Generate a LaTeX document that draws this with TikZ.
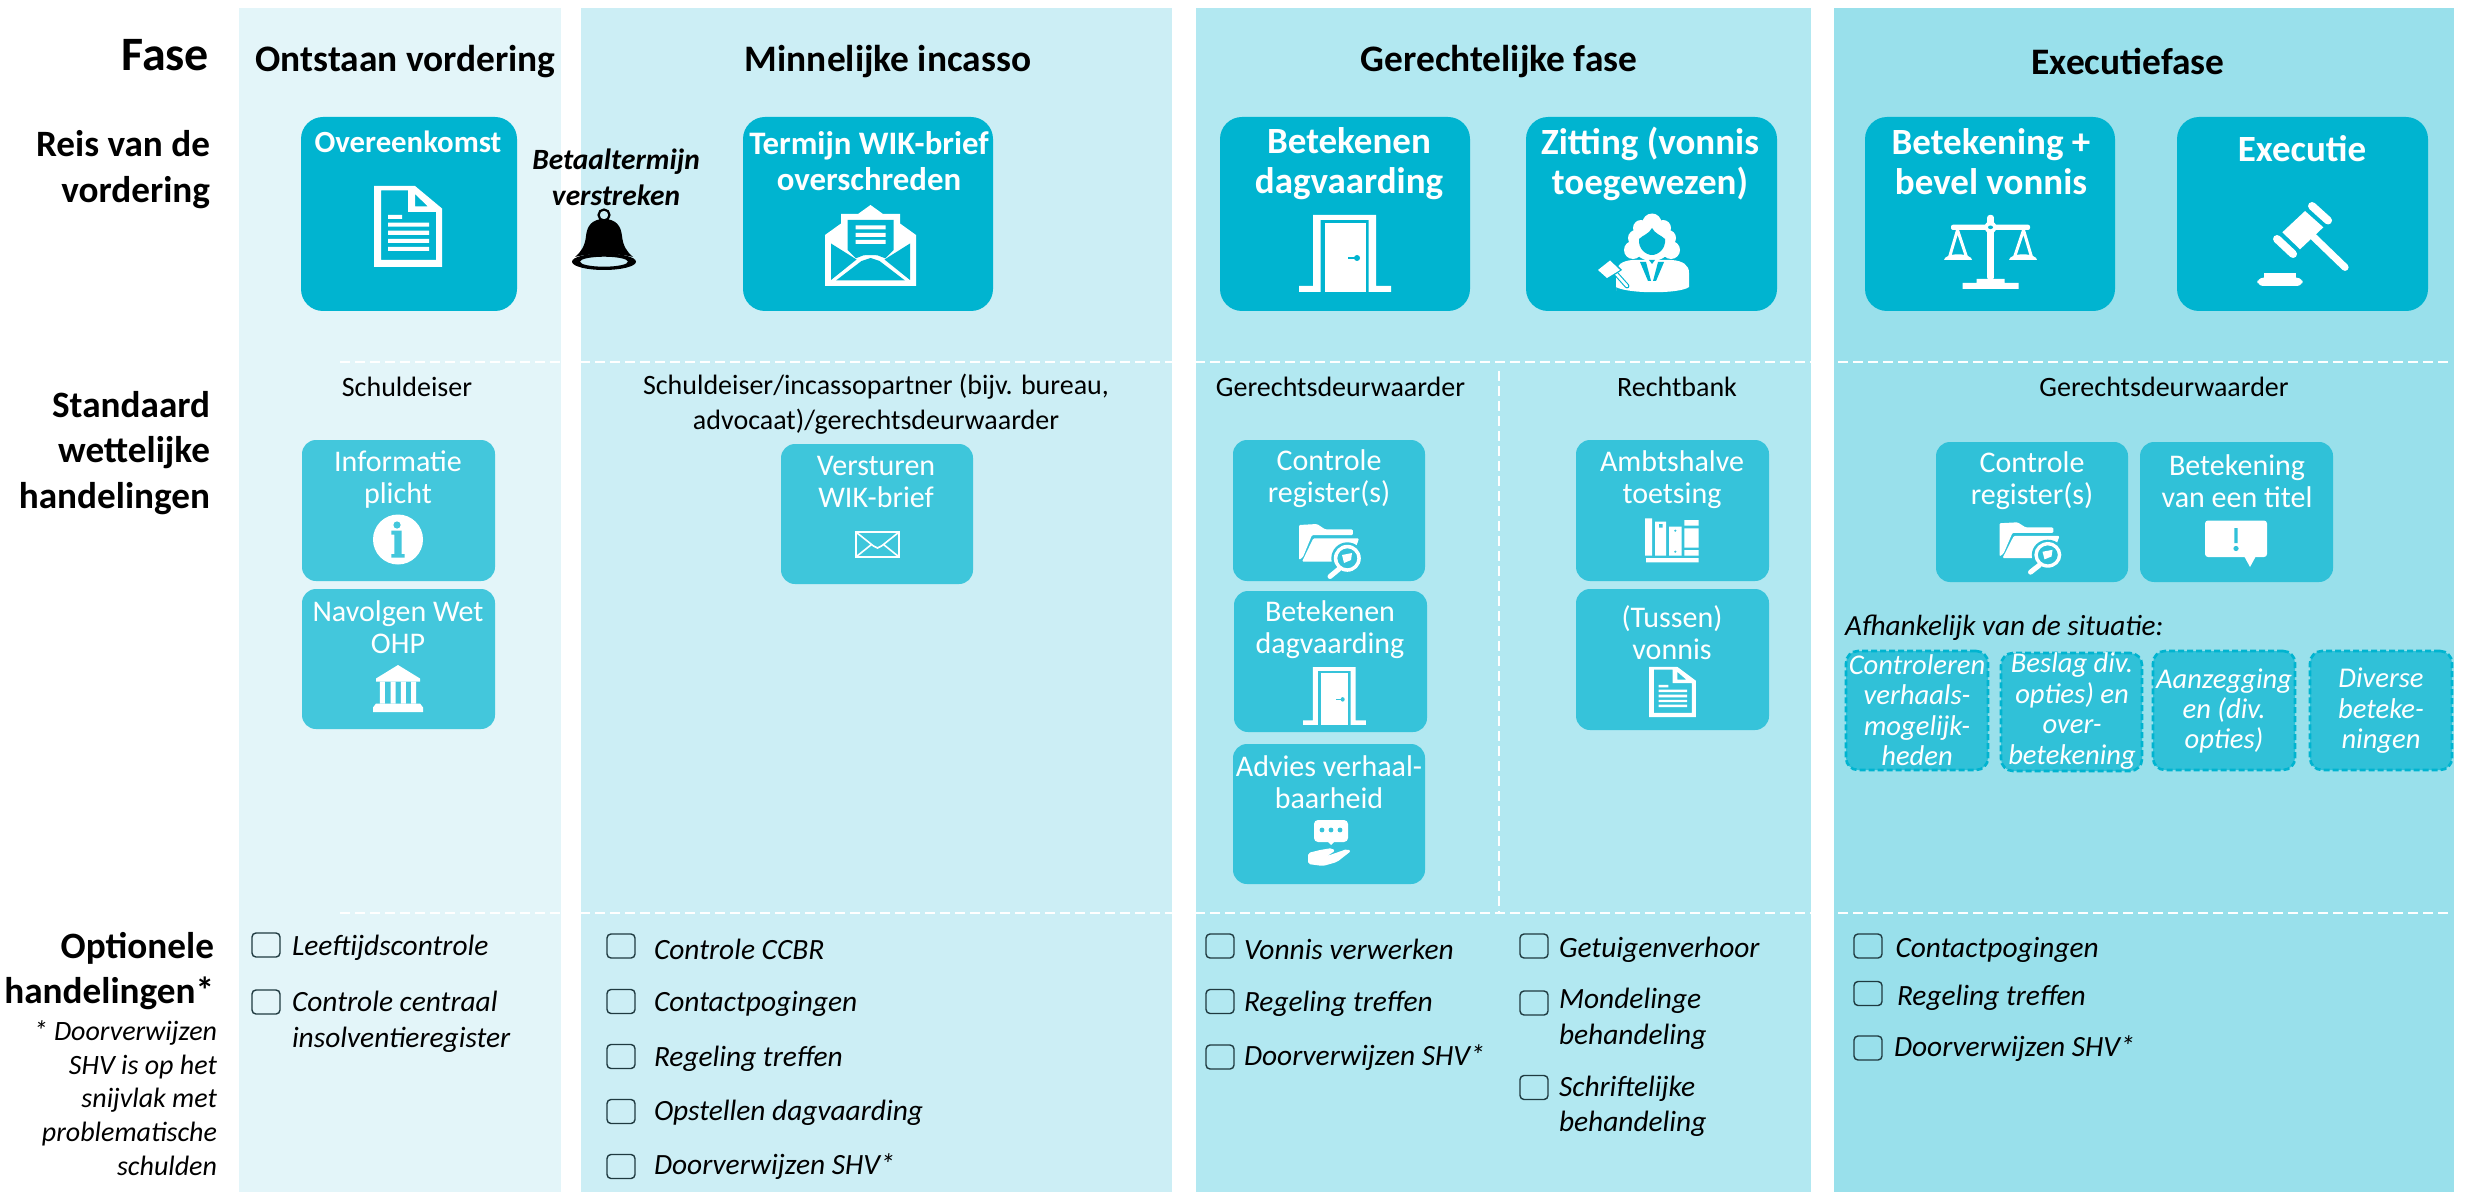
\documentclass[tikz,border=0pt]{standalone}
\usepackage{fontspec}
\setmainfont{Carlito}
\definecolor{colA}{HTML}{E3F5F9}
\definecolor{colB}{HTML}{CCEEF5}
\definecolor{colC}{HTML}{B2E8F1}
\definecolor{colD}{HTML}{99E0EB}
\definecolor{boxmain}{HTML}{00B4D0}
\definecolor{smA}{HTML}{43C7DC}
\definecolor{smB}{HTML}{3EC6DB}
\definecolor{smC}{HTML}{36C3DA}
\definecolor{smD}{HTML}{30C1D8}
\definecolor{chk}{HTML}{1F3A40}
\newcommand{\fs}[2]{\fontsize{#1}{#2}\selectfont}
\newcommand{\bx}[6]{\node[#2, minimum width={(#5-(#3))*0.5pt}, minimum height={(#6-(#4))*0.5pt}] (#1) at ({(#3+#5)/2},{(#4+#6)/2}) {};}
\newcommand{\tx}[5]{\node[#1] (#2) at (#3,#4) {#5};}
\newcommand{\cb}[3]{\node[chkbox] (#1) at (#2,#3) {};}
\tikzset{
  x=0.5pt,y=-0.5pt,
  coldbg/.style={rectangle,inner sep=0,outer sep=0,fill=#1,draw=none},
  bigbox/.style={rectangle,rounded corners=11pt,inner sep=0,outer sep=0,fill=boxmain,draw=none},
  smallbox/.style={rectangle,rounded corners=7pt,inner sep=0,outer sep=0,fill=#1,draw=none},
  dashbox/.style={rectangle,rounded corners=6pt,inner sep=0,outer sep=0,fill=smD,draw=boxmain,line width=1.3pt,dash pattern=on 3pt off 1.5pt},
  chkbox/.style={rectangle,rounded corners=2pt,inner sep=0,outer sep=0,minimum width=14pt,minimum height=12pt,draw=chk,line width=0.7pt,fill=none},
  base/.style={inner sep=0,outer sep=0,align=center,text=black},
  phasel/.style={base,anchor=east,align=right,font=\bfseries\fs{24}{27}},
  rowl/.style={base,anchor=east,align=right,font=\bfseries\fs{18.6}{22.9}},
  notel/.style={base,anchor=east,align=right,font=\itshape\fs{14}{16.85}},
  head/.style={base,font=\bfseries\fs{18.7}{22}},
  bigO/.style={base,text=white,font=\bfseries\fs{15.4}{17.8}},
  bigA/.style={base,text=white,font=\bfseries\fs{16.4}{17.8}},
  bigB/.style={base,text=white,font=\bfseries\fs{18.5}{20}},
  betaal/.style={base,font=\bfseries\itshape\fs{14.7}{18}},
  actor/.style={base,font=\fs{14}{17.4}},
  smallt/.style={base,text=white,font=\fs{15}{16}},
  dasht/.style={base,text=white,font=\itshape\fs{14.3}{15.2}},
  afh/.style={base,anchor=west,font=\itshape\fs{14.6}{17}},
  optt/.style={base,anchor=west,align=left,font=\itshape\fs{14.7}{17.7}},
  wdash/.style={draw=white,line width=1.1pt,dash pattern=on 5pt off 2.5pt},
  vdash/.style={draw=white,line width=0.8pt,dash pattern=on 5pt off 2.5pt},
  pics/docicon/.style={code={
    \fill[white,even odd rule] (-34,-40.5)--(7,-40.5)--(34,-18)--(34,40.5)--(-34,40.5)--cycle
      (-27,-36)--(0,-36)--(0,-14.5)--(28,-14.5)--(28,33.5)--(-27,33.5)--cycle
      (7,-32.5)--(20,-20)--(7,-20)--cycle;
    \fill[white] (-20,-11.5) rectangle (-6,-7.5) (-20,-3.8) rectangle (21,0.2) (-20,4.2) rectangle (21,8.5) (-20,12.5) rectangle (21,16.5) (-20,20.5) rectangle (21,24.5);
  }},
  pics/mailopen/.style={code={
    \fill[white] (-45.5,40.5)--(-45.5,-10.5)--(-29.5,-22)--(-29.5,-31.5)--(-12.5,-31.5)--(0,-40.5)--(12.5,-31.5)--(29.5,-31.5)--(29.5,-22)--(45.5,-10.5)--(45.5,40.5)--cycle;
    \fill[#1] (-23,-25.5)--(23,-25.5)--(23,4.5)--(14.7,12.8)--(7,9.8)--(0,9.5)--(-7,9.8)--(-14.7,12.8)--(-23,4.5)--cycle;
    \fill[#1] (-39.5,-2)--(-14,14)--(-39.5,34.5)--cycle (39.5,-2)--(14,14)--(39.5,34.5)--cycle;
    \fill[#1] (-34.5,35)--(-9,15.5)--(0,12.5)--(9,15.5)--(34.5,35)--cycle;
    \fill[white] (-15,-20) rectangle (15,-16) (-15,-12.5) rectangle (15,-8.5) (-15,-5.5) rectangle (15,-1.5);
  }},
  pics/mailsmall/.style={code={
    \draw[white,line width=1.1pt] (-21.5,-12.5) rectangle (21.5,12.5);
    \draw[white,line width=0.8pt] (-21,-12)--(-4,1.5)--(0,3.5)--(4,1.5)--(21,-12) (-21,12)--(-6,0) (21,12)--(6,0);
  }},
  pics/dooricon/.style={code={
    \fill[white] (-46,38.5)--(-46,32.5)--(-32,32.5)--(-32,-38.5)--(31,-38.5)--(31,32.5)--(46,32.5)--(46,38.5)--(23.5,38.5)--(23.5,-33.5)--(-24.5,-33.5)--(-24.5,38.5)--cycle;
    \fill[white] (-20,-30.5) rectangle (20.5,38.5);
    \fill[#1] (2.5,3.6) rectangle (10,5.4);
    \fill[#1] (12,4.5) circle[radius=3];
  }},
  pics/judge/.style={code={
    \fill[white] (0,-30) circle[radius=9.5] (-11,-25) circle[radius=8] (11,-25) circle[radius=8]
      (-16,-15) circle[radius=8] (16,-15) circle[radius=8] (-19,-3) circle[radius=9] (19,-3) circle[radius=9]
      (0,-10) ellipse[x radius=20,y radius=18];
    \fill[#1] (0,-25)..controls (3,-19) and (9,-18)..(13,-14)..controls (14,-4) and (6,2)..(0,2)..controls (-6,2) and (-14,-4)..(-13,-14)..controls (-9,-18) and (-3,-19)..(0,-25)--cycle;
    \fill[white] (-6,2) rectangle (6,5);
    \fill[white] (-36,38)--(-36,20)..controls (-36,12) and (-30,8)..(-20,7)--(20,7)..controls (31,8) and (37,12)..(37,20)--(37,34)..controls (28,41) and (-24,41)..(-36,34)--cycle;
    \fill[#1] (-12,9)--(-6,9)--(-1,28)--(-4,28)--cycle (12,9)--(6,9)--(1,28)--(4,28)--cycle (-3,7)--(3,7)--(0,11)--cycle;
    \draw[#1,line width=2.4pt,line cap=round] (-42,14)--(-25,33);
    \draw[white,line width=1.3pt,line cap=round] (-42,14)--(-25,33);
    \fill[#1] (-42,5)--(-30,17)--(-45,27)--(-56,17)--cycle;
    \fill[white] (-42,7.5)--(-32,17)--(-45,25)--(-54,17)--cycle;
  }},
  pics/scalesicon/.style={code={
    \fill[white,rounded corners=1pt] (-39.5,-27.3) rectangle (39.5,-22);
    \fill[white,rounded corners=1.2pt] (-3.3,-37) rectangle (3.3,28);
    \fill[white] (0,-24.7) circle[radius=6];
    \fill[#1] (0,-24.7) ellipse[x radius=2.5,y radius=1.8];
    \fill[white] (-46.5,8) arc[start angle=180,end angle=360,x radius=14,y radius=5.7]--cycle;
    \fill[white] (18.5,8) arc[start angle=180,end angle=360,x radius=14,y radius=5.7]--cycle;
    \draw[white,line width=1.5pt] (-41,5)--(-33,-22)--(-24,5) (24,5)--(33,-22)--(41,5);
    \fill[white] (-14,27) rectangle (14,31) (-28,31) rectangle (28,37);
  }},
  pics/gavelicon/.style={code={
    \fill[white] (2,-32)--(20.3,-15.7)--(-3,6.3)--(-20.7,-10.7)--cycle;
    \draw[white,line width=3.6pt,line cap=round] (10.3,-6.3)--(42,24.3);
    \draw[white,line width=4pt,line cap=round] (9,-37)--(25,-22.5);
    \draw[white,line width=4pt,line cap=round] (-26,-4)--(-10,11);
    \fill[white,rounded corners=3pt] (-45.7,34.7) rectangle (-0.3,43);
    \fill[white] (-39,30) rectangle (-7,35);
  }},
  pics/bellicon/.style={code={
    \draw[black,line width=1.1pt] (0,-25) circle[radius=5.5];
    \fill[black] (0,-21)..controls (12,-21) and (17,-14)..(18,-4)..controls (19,6) and (23,12)..(29,17)..controls (15,13) and (-15,13)..(-29,17)..controls (-23,12) and (-19,6)..(-18,-4)..controls (-17,-14) and (-12,-21)..(0,-21)--cycle;
    \fill[black,even odd rule] (0,21.7) ellipse[x radius=32,y radius=8.3] (0,21.7) ellipse[x radius=24,y radius=5];
    \fill[black] (-6,15) arc[start angle=180,end angle=360,radius=6]--cycle;
  }},
  pics/infoicon/.style={code={
    \fill[white] (0,0) circle[radius=25];
    \fill[#1] (-1,-14.5) circle[radius=3.6];
    \fill[#1] (-6.7,-8.8)--(3.7,-8.8)--(3.7,14.5)--(6.7,14.5)--(6.7,18.2)--(-6.7,18.2)--(-6.7,14.5)--(-3.6,14.5)--(-3.6,-4.8)--(-6.7,-4.8)--cycle;
  }},
  pics/bank/.style={code={
    \fill[white] (0,-23.5)--(22,-10)--(22,-7)--(-22,-7)--(-22,-10)--cycle;
    \fill[white] (-18.2,-7) rectangle (-13.2,15) (-7.4,-7) rectangle (-2.5,15) (2.9,-7) rectangle (7.8,15) (13.2,-7) rectangle (18.2,15);
    \fill[white] (-22,15)--(22,15)--(25,19)--(25,23.5)--(-25,23.5)--(-25,19)--cycle;
  }},
  pics/foldericon/.style={code={
    \fill[white,rounded corners=0.6pt] (-31,-25)--(-13,-26)--(-5,-20.7)--(22.7,-20.7)--(23,-15)--(-18,-15)--(-27,7)--(-31,10)--cycle;
    \fill[white,rounded corners=0.6pt] (-16.7,-11.7)--(29,-11.7)--(25,0)--(3,11.7)--(-28,11.7)--cycle;
    \fill[#1] (17.3,8.3) circle[radius=16];
    \fill[white,even odd rule] (17.3,8.3) circle[radius=13.5] (17.3,8.3) circle[radius=10];
    \fill[white] (12,5)--(22,3)--(21,10)--(14,13)--cycle;
    \draw[white,line width=2.5pt,line cap=round] (9,19)--(0,26.5);
  }},
  pics/booksicon/.style={code={
    \fill[white] (-27,-21.7) rectangle (-20,15.7) (-17,-18.3) rectangle (-6,15.7) (-3,-13.3) rectangle (9.7,15.7)
      (12.3,-20) rectangle (26.7,-14.3) (12.3,-11.7) rectangle (26.7,7.7) (12.3,10) rectangle (26.7,15.7)
      (-26,18) rectangle (26.7,22.3);
    \fill[#1] (-13,-15.8) rectangle (-9.5,-12.3) (3.3,-9.3) circle[radius=1.2] (3.3,11.7) circle[radius=1.2];
  }},
  pics/alert/.style={code={
    \fill[white,rounded corners=1.5pt] (-31,-23.5) rectangle (31,13);
    \fill[white] (8,12)--(20,12)--(14,23)--cycle;
    \fill[#1] (-1.6,-16) rectangle (1.6,-1) (0,4.5) circle[radius=2.6];
  }},
  pics/advice/.style={code={
    \fill[white,rounded corners=2pt] (-17,-23) rectangle (17,-1);
    \fill[white] (-4,-2)--(4,-2)--(0,2)--cycle;
    \fill[#1] (-9,-13) circle[radius=2.4] (0,-13) circle[radius=2.4] (9,-13) circle[radius=2.4];
    \fill[white,rounded corners=1pt] (-23,10)--(-11,7)--(1,5)--(4,8)--(-4,13)--(16,6)--(20,8)--(6,19)--(-8,23)--(-23,21)--cycle;
  }},
}
\begin{document}
\begin{tikzpicture}
\useasboundingbox (0,0) rectangle (2471,1192);
% column backgrounds
\bx{colOne}{coldbg=colA}{239}{8}{561}{1192}
\bx{colTwo}{coldbg=colB}{581}{8}{1172}{1192}
\bx{colThree}{coldbg=colC}{1196}{8}{1811}{1192}
\bx{colFour}{coldbg=colD}{1834}{8}{2454}{1192}
% dashed separators
\coordinate (hAa) at (340,362);\coordinate (hAb) at (1811,362);
\coordinate (hBa) at (1838,362);\coordinate (hBb) at (2450,362);
\coordinate (hCa) at (340,913);\coordinate (hCb) at (1811,913);
\coordinate (hDa) at (1838,913);\coordinate (hDb) at (2450,913);
\coordinate (vTop) at (1499,371);\coordinate (vBot) at (1499,913);
\draw[wdash] (hAa)--(hAb);
\draw[wdash] (hBa)--(hBb);
\draw[wdash] (hCa)--(hCb);
\draw[wdash] (hDa)--(hDb);
\draw[vdash] (vTop)--(vBot);
% row labels
\tx{phasel}{lblFase}{209}{55}{Fase}
\tx{rowl}{lblReis}{210}{169.5}{Reis van de\\vordering}
\tx{rowl}{lblStd}{210}{453}{Standaard\\wettelijke\\handelingen}
\tx{rowl}{lblOpt}{214}{971}{Optionele\\handelingen*}
\tx{notel}{lblNote}{217}{1098}{* Doorverwijzen\\SHV is op het\\snijvlak met\\problematische\\schulden}
% headers
\tx{head}{hOne}{405.5}{62}{Ontstaan vordering}
\tx{head}{hTwo}{888}{62}{Minnelijke incasso}
\tx{head}{hThree}{1499}{62}{Gerechtelijke fase}
\tx{head}{hFour}{2128}{61}{Executiefase}
% big boxes
\bx{bOver}{bigbox}{301}{117}{517}{311}
\bx{bTerm}{bigbox}{743}{117}{993}{311}
\bx{bBet}{bigbox}{1220}{117}{1470}{311}
\bx{bZit}{bigbox}{1526}{117}{1777}{311}
\bx{bBev}{bigbox}{1865}{117}{2115}{311}
\bx{bExe}{bigbox}{2177}{117}{2428}{311}
\tx{bigO}{tOver}{408}{142}{Overeenkomst}
\tx{bigA}{tTerm}{869}{161}{Termijn WIK-brief\\overschreden}
\tx{bigB}{tBet}{1349}{163.5}{Betekenen\\dagvaarding}
\tx{bigB}{tZit}{1650}{163.5}{Zitting (vonnis\\toegewezen)}
\tx{bigB}{tBev}{1991}{162}{Betekening +\\bevel vonnis}
\tx{bigB}{tExe}{2302}{149}{Executie}
\tx{betaal}{tBetaal}{616}{177}{Betaaltermijn\\verstreken}
\pic at (408,226.5) {docicon};
\pic at (870.5,245.5) {mailopen=boxmain};
\pic at (1345,253.5) {dooricon=boxmain};
\pic at (1652,253) {judge=boxmain};
\pic at (1990.5,252) {scalesicon=boxmain};
\pic at (2303,243) {gavelicon};
\pic at (604,240) {bellicon};
% actors
\tx{actor}{aOne}{407}{386.5}{Schuldeiser}
\tx{actor}{aTwo}{876}{404.5}{Schuldeiser/incassopartner (bijv. bureau,\\advocaat)/gerechtsdeurwaarder}
\tx{actor}{aThree}{1340.5}{386.5}{Gerechtsdeurwaarder}
\tx{actor}{aRecht}{1677}{386.5}{Rechtbank}
\tx{actor}{aFour}{2164}{386.5}{Gerechtsdeurwaarder}
% standard boxes
\bx{sInfo}{smallbox=smA}{302}{440}{495}{581}
\bx{sOhp}{smallbox=smA}{302}{589}{495}{729}
\bx{sWik}{smallbox=smB}{781}{444}{973}{584}
\bx{sCon}{smallbox=smC}{1233}{440}{1425}{581}
\bx{sDag}{smallbox=smC}{1234}{591}{1427}{732}
\bx{sAdv}{smallbox=smC}{1233}{744}{1425}{884}
\bx{sAmb}{smallbox=smC}{1576}{440}{1769}{581}
\bx{sTus}{smallbox=smC}{1576}{589}{1769}{730}
\bx{sConB}{smallbox=smD}{1936}{442}{2128}{582}
\bx{sTit}{smallbox=smD}{2140}{442}{2333}{582}
\tx{smallt}{tInfo}{398}{480}{Informatie\\plicht}
\tx{smallt}{tOhp}{398}{627}{Navolgen Wet\\OHP}
\tx{smallt}{tWik}{876}{482}{Versturen\\WIK-brief}
\tx{smallt}{tCon}{1329}{479}{Controle\\register(s)}
\tx{smallt}{tDag}{1330}{630}{Betekenen\\dagvaarding}
\tx{smallt}{tAdv}{1329}{782}{Advies verhaal-\\baarheid}
\tx{smallt}{tAmb}{1672}{480}{Ambtshalve\\toetsing}
\tx{smallt}{tTus}{1672}{633}{(Tussen)\\vonnis}
\tx{smallt}{tConB}{2032}{481}{Controle\\register(s)}
\tx{smallt}{tTit}{2237}{481}{Betekening\\van een titel}
\pic at (398,539.5) {infoicon=smA};
\pic at (398,688.5) {bank};
\pic at (877.5,544.5) {mailsmall};
\pic at (1330,550) {foldericon=smC};
\pic[xscale=0.68,yscale=0.75] at (1334.5,696) {dooricon=smC};
\pic at (1331,843) {advice=smC};
\pic at (1672,540) {booksicon=smC};
\pic[xscale=0.69,yscale=0.62] at (1672.5,692) {docicon};
\pic[yscale=0.95] at (2030.5,547) {foldericon=smD};
\pic at (2236,544) {alert=smD};
% situational
\tx{afh}{tAfh}{1845}{627.5}{Afhankelijk van de situatie:}
\bx{dOne}{dashbox}{1846}{651}{1988}{770}
\bx{dTwo}{dashbox}{2001}{653}{2142}{771}
\bx{dThree}{dashbox}{2153}{651}{2295}{770}
\bx{dFour}{dashbox}{2310}{651}{2452}{770}
\tx{dasht}{tdOne}{1917}{710}{Controleren\\verhaals-\\mogelijk-\\heden}
\tx{dasht}{tdTwo}{2072}{711}{Beslag div.\\opties) en\\over-\\betekening}
\tx{dasht}{tdThree}{2224}{711}{Aanzegging\\en (div.\\opties)}
\tx{dasht}{tdFour}{2381}{711}{Diverse\\beteke-\\ningen}
% optional actions
\cb{cA}{266}{945}
\cb{cB}{266}{1002}
\tx{optt}{oA}{292}{948}{Leeftijdscontrole}
\tx{optt}{oB}{292}{1022}{Controle centraal\\insolventieregister}
\cb{cC}{621}{946}
\cb{cD}{621}{1001.5}
\cb{cE}{621}{1056.5}
\cb{cF}{621}{1111.5}
\cb{cG}{621}{1166.5}
\tx{optt}{oC}{654}{949}{Controle CCBR}
\tx{optt}{oD}{654}{1004}{Contactpogingen}
\tx{optt}{oE}{654}{1059}{Regeling treffen}
\tx{optt}{oF}{654}{1113}{Opstellen dagvaarding}
\tx{optt}{oG}{654}{1167}{Doorverwijzen SHV*}
\cb{cH}{1220}{946}
\cb{cI}{1220}{1001.5}
\cb{cJ}{1220}{1057}
\tx{optt}{oH}{1244}{949.5}{Vonnis verwerken}
\tx{optt}{oI}{1244}{1004}{Regeling treffen}
\tx{optt}{oJ}{1244}{1058}{Doorverwijzen SHV*}
\cb{cK}{1534}{946}
\cb{cL}{1534}{1003}
\cb{cM}{1534}{1087.5}
\tx{optt}{oK}{1559}{949.5}{Getuigenverhoor}
\tx{optt}{oL}{1559}{1019}{Mondelinge\\behandeling}
\tx{optt}{oM}{1559}{1106}{Schriftelijke\\behandeling}
\cb{cN}{1868}{946}
\cb{cO}{1868}{993.5}
\cb{cP}{1868}{1048}
\tx{optt}{oN}{1895.5}{949.5}{Contactpogingen}
\tx{optt}{oO}{1897}{997.5}{Regeling treffen}
\tx{optt}{oP}{1894}{1049}{Doorverwijzen SHV*}
\end{tikzpicture}
\end{document}
